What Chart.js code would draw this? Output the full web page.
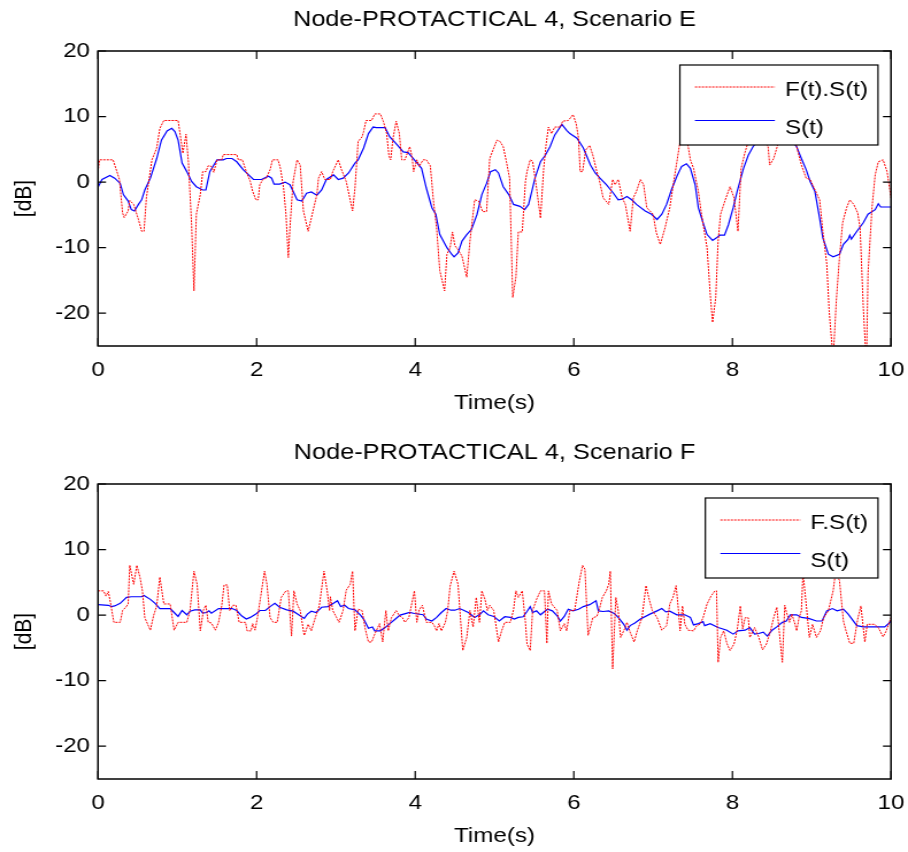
<!DOCTYPE html>
<html>
<head>
<meta charset="utf-8">
<script src="https://cdn.jsdelivr.net/npm/chart.js@4.4.0/dist/chart.umd.min.js"></script>
<style>
  body { margin: 0; background: #fff; width: 908px; height: 852px; overflow: hidden; }
  .plot { position: absolute; left: 0; width: 790px; height: 419px; transform-origin: 0 0; }
</style>
</head>
<body>
<div class="plot" id="boxE" style="top:0"><canvas id="chartE" width="790" height="419"></canvas></div>
<div class="plot" id="boxF" style="top:433px"><canvas id="chartF" width="790" height="419"></canvas></div>
<script>
// the original figure is stretched sideways, so each plot is drawn narrower and scaled in x
const SX = 908 / 790;
document.querySelectorAll('.plot').forEach(d => d.style.transform = 'scaleX(' + SX + ')');

const xTicks = [0, 2, 4, 6, 8, 10];
const yTicks = [-20, -10, 0, 10, 20];
const titleE = 'Node-PROTACTICAL 4, Scenario E';
const titleF = 'Node-PROTACTICAL 4, Scenario F';

// Scenario E
const eTimeFS = [0,0.02,0.19,0.27,0.31,0.33,0.38,0.40,0.45,0.51,
  0.55,0.58,0.61,0.68,0.74,0.78,0.83,1.01,1.07,1.11,
  1.14,1.18,1.21,1.24,1.29,1.32,1.36,1.39,1.43,1.46,
  1.50,1.56,1.58,1.75,1.77,1.82,1.87,1.92,1.95,1.99,
  2.02,2.04,2.08,2.12,2.17,2.20,2.27,2.30,2.34,2.37,
  2.40,2.42,2.46,2.51,2.55,2.59,2.65,2.69,2.76,2.78,
  2.82,2.86,2.93,2.96,3.03,3.07,3.13,3.21,3.24,3.28,
  3.33,3.35,3.38,3.45,3.49,3.56,3.60,3.64,3.67,3.69,
  3.72,3.76,3.80,3.83,3.87,3.93,3.96,3.98,4.02,4.05,
  4.10,4.14,4.19,4.23,4.27,4.31,4.37,4.40,4.44,4.47,
  4.50,4.54,4.59,4.65,4.69,4.75,4.80,4.85,4.90,4.94,
  4.99,5.03,5.07,5.11,5.15,5.19,5.23,5.27,5.30,5.35,
  5.39,5.41,5.45,5.48,5.53,5.58,5.62,5.65,5.68,5.72,
  5.76,5.83,5.86,5.93,5.99,6.03,6.06,6.08,6.11,6.15,
  6.20,6.24,6.29,6.32,6.37,6.44,6.49,6.52,6.56,6.61,
  6.65,6.71,6.75,6.79,6.84,6.88,6.92,7.00,7.04,7.09,
  7.15,7.21,7.26,7.30,7.34,7.40,7.47,7.51,7.57,7.61,
  7.68,7.72,7.75,7.79,7.82,7.85,7.91,7.97,8.02,8.07,
  8.11,8.16,8.20,8.28,8.38,8.45,8.47,8.52,8.56,8.65,
  8.75,8.81,8.87,8.93,8.98,9.05,9.10,9.14,9.19,9.22,
  9.27,9.31,9.35,9.39,9.44,9.48,9.53,9.58,9.61,9.65,
  9.69,9.71,9.76,9.80,9.84,9.90,9.95,10.00];
const eFS = [1.6,3.4,3.4,0.4,-4.7,-5.4,-4.4,-2.8,-3.4,-5.7,
  -7.5,-7.5,-2.4,3.4,5.2,8.2,9.4,9.4,4.4,7.3,
  3.1,-6.5,-16.6,-4.9,-1.9,1.6,1.6,2.5,2.4,1.5,
  3.4,3.4,4.2,4.2,3.4,3.4,1.6,0.1,-1.4,-2.7,
  -2.7,-0.4,0.4,0.6,1.9,3.4,3.4,2.1,-0.9,-4.9,
  -11.5,-7.0,0.1,3.4,2.6,-4.4,-7.5,-5.5,-1.9,0.6,
  1.6,0.4,0.4,1.6,3.4,1.9,0.1,-4.4,-0.9,6.2,
  6.9,7.7,9.4,9.4,10.4,10.4,9.2,7.4,3.9,3.4,
  6.7,9.3,7.4,3.4,3.4,5.4,3.9,1.6,3.4,2.4,
  3.4,3.4,2.5,-2.9,-7.0,-13.5,-16.6,-11.0,-10.0,-7.6,
  -9.7,-10.3,-11.3,-14.5,-9.0,-2.7,-2.9,-4.5,-4.5,3.6,
  5.2,6.4,6.2,5.4,3.1,0.6,-17.6,-14.5,-7.6,-7.6,
  0.1,1.6,3.4,3.2,-0.9,-5.5,2.1,5.7,8.4,7.4,
  8.4,8.4,9.3,9.4,10.3,8.9,6.7,1.6,1.6,4.9,
  5.6,4.1,1.6,0.4,-2.4,-3.4,0.4,-0.4,0.4,-2.4,
  -3.4,-7.5,-2.4,-1.4,0.4,-0.4,-3.9,-4.9,-7.7,-9.5,
  -7.0,-3.9,0.1,3.1,6.2,8.5,3.4,2.1,-1.4,-4.9,
  -10.0,-17.1,-21.4,-17.6,-9.0,-4.9,-2.7,-0.7,-2.4,-7.5,
  2.1,4.6,6.2,9.0,7.0,5.4,2.6,3.6,5.2,9.5,
  8.0,5.4,2.6,0.6,0.4,-1.4,-2.7,-7.5,-12.5,-19.6,
  -27,-18.1,-11.5,-6.2,-3.9,-2.7,-3.4,-4.7,-7.0,-19,
  -28,-14,-3.9,1.1,3.1,3.4,1.6,-2.4];
const eTimeS = [0,0.05,0.15,0.21,0.28,0.32,0.38,0.42,0.46,0.51,
  0.55,0.59,0.66,0.74,0.80,0.87,0.93,0.97,1.01,1.06,
  1.12,1.18,1.24,1.32,1.36,1.41,1.50,1.58,1.62,1.69,
  1.75,1.83,1.90,1.96,2.06,2.15,2.19,2.22,2.29,2.36,
  2.42,2.46,2.51,2.57,2.63,2.69,2.76,2.82,2.88,2.97,
  3.03,3.09,3.16,3.24,3.28,3.35,3.41,3.47,3.51,3.62,
  3.68,3.77,3.85,3.91,3.99,4.08,4.14,4.21,4.26,4.31,
  4.40,4.46,4.49,4.54,4.59,4.65,4.71,4.78,4.84,4.90,
  4.95,5.01,5.05,5.11,5.18,5.24,5.32,5.38,5.43,5.47,
  5.51,5.58,5.64,5.70,5.76,5.85,5.91,5.95,6.04,6.12,
  6.21,6.27,6.33,6.41,6.50,6.56,6.61,6.67,6.73,6.79,
  6.90,6.98,7.05,7.11,7.17,7.23,7.30,7.36,7.42,7.47,
  7.53,7.57,7.63,7.68,7.75,7.80,7.84,7.90,7.95,8.01,
  8.06,8.14,8.20,8.26,8.40,8.55,8.70,8.81,8.87,8.93,
  8.98,9.04,9.10,9.14,9.21,9.27,9.35,9.40,9.46,9.48,
  9.50,9.57,9.65,9.71,9.80,9.84,9.87,10.00];
const eS = [-0.8,0.4,1.0,0.6,-0.2,-1.9,-2.9,-4.2,-4.4,-3.4,
  -2.7,-1.2,0.6,3.6,6.4,7.8,8.2,7.7,6.4,2.9,
  1.6,0.1,-0.7,-1.2,-1.2,1.6,3.4,3.4,3.6,3.6,
  3.1,1.9,1.1,0.4,0.4,0.9,0.6,-0.3,-0.3,0.0,
  -0.4,-1.4,-2.7,-2.9,-1.7,-1.5,-2.0,-1.2,0.4,1.1,
  0.4,0.6,1.4,2.9,3.4,5.2,7.4,8.4,8.3,8.3,
  6.9,5.7,4.6,4.5,3.4,2.1,-0.9,-3.9,-4.9,-8.0,
  -10.0,-11.0,-11.4,-10.8,-9.0,-8.0,-7.2,-4.9,-1.9,-0.2,
  1.6,1.9,1.4,-0.7,-1.9,-3.4,-3.7,-4.2,-3.4,-1.4,
  0.6,3.1,4.1,5.4,7.2,8.8,7.9,7.4,6.7,5.2,
  2.6,1.4,0.6,-0.4,-1.7,-2.7,-2.6,-2.2,-2.7,-3.4,
  -4.4,-4.9,-5.7,-4.9,-3.4,-1.2,0.9,2.4,2.8,2.1,
  -0.4,-3.9,-6.2,-8.0,-8.9,-8.5,-8.1,-8.1,-6.5,-3.9,
  -1.4,2.1,4.1,5.4,7.5,8.0,7.0,5.4,3.6,1.9,
  0.1,-1.4,-5.5,-8.5,-11.0,-11.4,-11.0,-9.5,-8.7,-8.1,
  -8.7,-7.5,-6.2,-4.9,-4.2,-3.3,-3.8,-3.8];

// Scenario F
const fTimeFS = [0,0.07,0.10,0.13,0.16,0.20,0.28,0.31,0.35,0.38,
  0.40,0.45,0.49,0.53,0.56,0.59,0.66,0.70,0.74,0.78,
  0.83,0.91,0.96,1.01,1.12,1.16,1.21,1.25,1.29,1.33,
  1.36,1.39,1.43,1.48,1.52,1.56,1.59,1.63,1.66,1.70,
  1.74,1.78,1.86,1.88,1.93,1.95,1.98,2.01,2.05,2.10,
  2.13,2.17,2.21,2.26,2.31,2.37,2.40,2.44,2.47,2.51,
  2.55,2.60,2.65,2.69,2.74,2.79,2.85,2.89,2.92,2.93,
  2.96,3.01,3.04,3.09,3.13,3.18,3.21,3.24,3.28,3.33,
  3.37,3.41,3.45,3.49,3.55,3.59,3.63,3.66,3.70,3.76,
  3.80,3.84,3.87,3.92,3.99,4.02,4.05,4.09,4.14,4.21,
  4.24,4.27,4.30,4.33,4.38,4.41,4.44,4.49,4.54,4.57,
  4.60,4.65,4.69,4.73,4.77,4.81,4.84,4.88,4.91,4.94,
  4.99,5.05,5.09,5.13,5.20,5.24,5.27,5.30,5.35,5.39,
  5.41,5.45,5.48,5.53,5.58,5.63,5.66,5.68,5.72,5.79,
  5.83,5.88,5.91,5.95,6.01,6.07,6.11,6.14,6.18,6.24,
  6.29,6.32,6.36,6.41,6.44,6.46,6.49,6.53,6.56,6.59,
  6.64,6.67,6.71,6.76,6.80,6.86,6.91,6.95,6.99,7.05,
  7.11,7.17,7.21,7.25,7.29,7.32,7.34,7.37,7.40,7.44,
  7.51,7.55,7.59,7.63,7.68,7.73,7.78,7.80,7.82,7.85,
  7.89,7.93,7.97,8.02,8.06,8.10,8.13,8.16,8.20,8.22,
  8.26,8.28,8.33,8.38,8.43,8.48,8.52,8.56,8.59,8.63,
  8.66,8.68,8.72,8.75,8.79,8.81,8.84,8.87,8.89,8.93,
  8.97,9.01,9.06,9.11,9.15,9.21,9.27,9.30,9.35,9.40,
  9.43,9.48,9.53,9.58,9.62,9.67,9.70,9.79,9.84,9.90,
  9.94,10.00];
const fFS = [3.7,3.7,2.9,3.6,1.7,-1.1,-1.1,0.7,1.2,1.7,
  7.6,4.7,7.6,5.7,3.7,-0.4,-2.3,-0.1,1.4,5.8,
  1.7,1.7,-2.3,-1.1,-1.1,0.7,6.7,4.7,-2.4,0.8,
  1.5,-1.1,-1.2,-2.3,-1.1,1.4,4.6,4.6,0.7,1.5,
  1.5,-1.1,-1.1,-2.4,-2.4,-1.3,-2.3,-0.4,2.7,6.7,
  4.7,-0.4,-1.1,-1.1,2.7,3.7,3.7,-3.2,3.7,1.7,
  0.7,-3.1,-1.4,-2.4,-0.4,1.4,6.7,3.7,0.7,2.8,
  0.7,-0.4,-1.1,0.7,3.8,4.7,6.7,-2.4,0.9,0.7,
  -2.1,-4.1,-4.1,-2.9,-1.3,-4.1,0.7,-2.4,-0.4,0.7,
  -0.1,-0.4,-1.1,-0.4,3.7,-1.1,0.8,1.5,-1.1,-1.1,
  -1.6,-2.4,-1.3,-2.4,-1.1,0.7,4.4,6.7,4.7,-0.4,
  -5.4,-3.4,0.7,-1.8,2.7,-1.1,3.7,2.4,0.7,1.5,
  0.7,-4.1,-2.4,-1.1,-1.1,0.8,3.7,2.7,3.7,-1.1,
  -4.4,-5.4,0.7,2.4,3.7,3.7,-4.3,3.7,1.7,0.7,
  -2.4,-1.3,-2.4,0.7,0.7,5.2,7.6,7.0,-3.1,-0.4,
  -0.2,0.8,2.7,3.7,4.7,6.7,-8.2,2.7,0.7,-3.4,
  -2.1,-1.1,-2.6,-4.1,-2.4,-0.4,4.5,2.4,0.7,-0.4,
  -2.3,-1.6,1.7,2.7,4.5,0.7,-2.4,1.4,-1.4,-2.3,
  -2.4,-1.6,-1.4,-0.4,1.7,2.9,3.7,3.7,-7.2,-3.4,
  -2.4,-4.3,-5.4,-4.4,-2.3,1.4,-2.1,-0.4,-0.4,-3.4,
  -2.4,-1.9,-3.3,-5.3,-4.4,-2.4,-0.4,1.2,-2.4,-7.2,
  1.5,0.5,-1.1,0.15,-1.4,-2.4,-0.4,0.65,6.5,1.7,
  -3.4,-1.4,-3.4,-2.4,-0.4,0.65,3.7,6.5,5.3,-0.9,
  -2.3,-4.3,-4.3,-0.6,1.4,-4.1,-1.4,-1.4,-1.9,-3.3,
  -2.4,-0.4];
const fTimeS = [0,0.13,0.17,0.21,0.28,0.36,0.42,0.55,0.58,0.66,
  0.72,0.78,0.91,0.96,1.01,1.06,1.12,1.16,1.22,1.29,
  1.32,1.37,1.40,1.43,1.52,1.69,1.75,1.81,1.87,1.92,
  2.00,2.04,2.11,2.17,2.23,2.29,2.38,2.46,2.53,2.60,
  2.64,2.69,2.75,2.82,2.90,2.97,3.02,3.06,3.11,3.16,
  3.24,3.31,3.35,3.41,3.46,3.49,3.56,3.62,3.68,3.75,
  3.81,3.93,3.99,4.10,4.14,4.21,4.27,4.33,4.39,4.45,
  4.50,4.56,4.61,4.67,4.75,4.82,4.86,4.92,4.99,5.06,
  5.13,5.20,5.25,5.30,5.36,5.41,5.45,5.48,5.53,5.58,
  5.63,5.67,5.73,5.79,5.83,5.88,5.93,5.99,6.06,6.12,
  6.20,6.28,6.31,6.37,6.44,6.51,6.56,6.63,6.67,6.71,
  6.77,6.84,6.96,7.05,7.11,7.16,7.21,7.30,7.40,7.47,
  7.51,7.57,7.63,7.65,7.72,7.82,7.93,8.01,8.07,8.16,
  8.22,8.28,8.33,8.39,8.44,8.50,8.56,8.63,8.68,8.73,
  8.81,8.87,8.96,9.06,9.13,9.19,9.26,9.32,9.40,9.46,
  9.57,9.65,9.92,9.96,10.00];
const fS = [1.6,1.5,1.3,1.4,1.8,2.7,2.8,2.8,3.0,2.4,
  1.8,1.0,1.0,0.4,-0.2,0.7,0.05,0.6,0.8,0.8,
  0.3,0.4,0.65,0.3,1.0,1.0,0.7,-0.1,-0.6,-0.35,
  0.25,0.7,0.7,1.3,1.8,1.2,0.8,0.6,0.05,-0.5,
  0.15,0.6,0.4,1.2,1.3,1.8,2.2,1.3,1.5,1.0,
  0.8,0.0,-0.6,-2.0,-1.8,-2.4,-2.4,-1.9,-1.3,-0.6,
  0.0,0.4,0.25,0.05,-0.6,-0.9,-0.35,0.4,1.0,0.75,
  0.75,1.0,0.75,0.4,-0.35,0.15,0.65,0.05,-0.2,-0.9,
  -0.25,-0.35,-0.6,-0.35,-0.25,0.55,1.3,0.4,0.65,0.05,
  0.55,0.9,0.65,-0.1,-0.9,-0.2,0.9,0.65,0.9,1.3,
  1.6,2.2,0.65,0.55,0.65,0.25,-0.35,-1.4,-2.3,-1.6,
  -1.2,-0.6,0.15,0.65,1.0,0.5,0.6,0.05,0.05,-0.35,
  -1.5,-1.3,-1.0,-1.6,-1.3,-1.9,-2.3,-2.9,-2.4,-2.3,
  -1.9,-2.9,-2.8,-2.6,-3.2,-2.3,-1.8,-1.1,-0.9,0.05,
  0.05,-0.35,-0.5,-0.9,-0.9,0.65,1.0,0.65,0.9,0.15,
  -1.6,-1.8,-1.8,-1.4,-0.9];

const FONT = '"Liberation Sans", Arial, sans-serif';
Chart.defaults.font.family = FONT;
Chart.defaults.color = '#000';

// matlab style box with inward ticks on all four sides
const frame = {
  id: 'frame',
  afterDraw(chart) {
    const { ctx, chartArea: a, scales: { x, y } } = chart;
    ctx.save();
    ctx.strokeStyle = '#000';
    ctx.lineWidth = 1.5;
    ctx.strokeRect(a.left, a.top, a.right - a.left, a.bottom - a.top);
    ctx.lineWidth = 1.2;
    ctx.beginPath();
    x.ticks.forEach(t => {
      const px = x.getPixelForValue(t.value);
      ctx.moveTo(px, a.bottom); ctx.lineTo(px, a.bottom - 8);
      ctx.moveTo(px, a.top); ctx.lineTo(px, a.top + 8);
    });
    y.ticks.forEach(t => {
      const py = y.getPixelForValue(t.value);
      ctx.moveTo(a.left, py); ctx.lineTo(a.left + 7, py);
      ctx.moveTo(a.right, py); ctx.lineTo(a.right - 7, py);
    });
    ctx.stroke();
    ctx.restore();
  }
};

// legend box drawn inside the axes, on top of the lines
const legendBox = {
  id: 'legendBox',
  afterDraw(chart) {
    const { ctx, chartArea: a } = chart;
    const ds = chart.data.datasets;
    ctx.save();
    ctx.font = '21px ' + FONT;
    const tw = Math.max(...ds.map(d => ctx.measureText(d.label).width));
    const right = a.right - 13 / SX, top = a.top + 14, bottom = a.top + 94;
    const textX = right - 10 / SX - tw;
    const lineEnd = textX - 10 / SX, lineStart = lineEnd - 80 / SX;
    const left = lineStart - 15 / SX;
    ctx.fillStyle = '#fff';
    ctx.fillRect(left, top, right - left, bottom - top);
    ctx.strokeStyle = '#000';
    ctx.lineWidth = 1.2;
    ctx.strokeRect(left, top, right - left, bottom - top);
    const lineY = [top + 22, top + 55.5], textY = [top + 25, top + 63];
    ds.forEach((d, i) => {
      ctx.strokeStyle = d.borderColor;
      ctx.lineWidth = d.borderWidth;
      ctx.setLineDash(d.borderDash || []);
      ctx.beginPath();
      ctx.moveTo(lineStart, lineY[i]); ctx.lineTo(lineEnd, lineY[i]);
      ctx.stroke();
      ctx.setLineDash([]);
      ctx.fillStyle = '#000';
      ctx.textBaseline = 'middle';
      ctx.fillText(d.label, textX, textY[i]);
    });
    ctx.restore();
  }
};

function points(ts, vs) {
  return ts.map((t, i) => ({ x: t, y: vs[i] }));
}

function makeChart(id, title, redLabel, tRed, vRed, tBlue, vBlue) {
  return new Chart(document.getElementById(id), {
    type: 'line',
    data: {
      datasets: [
        { label: redLabel, data: points(tRed, vRed), borderColor: '#ff0000', borderWidth: 1,
          borderDash: [2, 1], pointRadius: 0, tension: 0 },
        { label: 'S(t)', data: points(tBlue, vBlue), borderColor: '#0000ff', borderWidth: 1.2,
          pointRadius: 0, tension: 0 }
      ]
    },
    options: {
      responsive: false,
      animation: false,
      layout: { padding: { left: 0, right: 790 - 891 / SX, top: 0, bottom: 0 } },
      plugins: {
        legend: { display: false },
        tooltip: { enabled: false },
        title: {
          display: true, text: title, fullSize: false, color: '#000',
          font: { size: 22, weight: 'normal' }, padding: { top: 7, bottom: 17.6 }
        }
      },
      scales: {
        x: {
          type: 'linear', min: 0, max: 10,
          afterBuildTicks: s => { s.ticks = xTicks.map(v => ({ value: v })); },
          afterFit: s => { s.height = 73; s.paddingLeft = 0; s.paddingRight = 0; },
          grid: { display: false, drawTicks: false },
          border: { display: false },
          ticks: { padding: 12, maxRotation: 0, autoSkip: false, font: { size: 21 } },
          title: { display: true, text: 'Time(s)', font: { size: 21 }, padding: { top: 0, bottom: 3.4 } }
        },
        y: {
          min: -25, max: 20,
          afterBuildTicks: s => { s.ticks = yTicks.map(v => ({ value: v })); },
          afterFit: s => { s.width = 98 / SX; s.paddingTop = 0; s.paddingBottom = 0; },
          grid: { display: false, drawTicks: false },
          border: { display: false },
          ticks: { padding: 7, font: { size: 21 } },
          title: { display: true, text: '[dB]', font: { size: 21 }, padding: { top: 9, bottom: 0 } }
        }
      }
    },
    plugins: [frame, legendBox]
  });
}

makeChart('chartE', titleE, 'F(t).S(t)', eTimeFS, eFS, eTimeS, eS);
makeChart('chartF', titleF, 'F.S(t)', fTimeFS, fFS, fTimeS, fS);
</script>
</body>
</html>
